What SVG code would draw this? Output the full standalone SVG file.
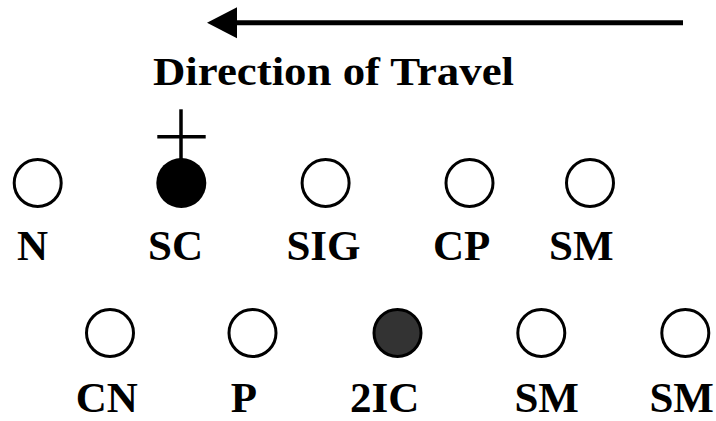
<svg xmlns="http://www.w3.org/2000/svg" width="716" height="421" viewBox="0 0 716 421">
<style>
.c{fill:#fff;stroke:#000;stroke-width:3}
.t{font-family:"Liberation Serif","Times New Roman",serif;font-weight:bold;font-size:43px;text-anchor:middle;fill:#000}
</style>
<rect width="716" height="421" fill="#fff"/>
<g id="connectors">
<line x1="683" y1="22.7" x2="234" y2="22.7" stroke="#000" stroke-width="5"/>
<polygon points="207,22.7 237,7.3 237,38.3" fill="#000"/>
</g>
<text x="153" y="85" font-family="Liberation Serif, Times New Roman, serif" font-weight="bold" font-size="41" textLength="361" lengthAdjust="spacingAndGlyphs">Direction of Travel</text>
<g id="N"><circle class="c" cx="37.7" cy="183" r="23.5"/><text class="t" x="32.5" y="260">N</text></g>
<g id="SC"><circle cx="181.3" cy="183" r="25" fill="#000"/><line x1="181" y1="109.3" x2="181" y2="160" stroke="#000" stroke-width="3.5"/><line x1="157.3" y1="136.7" x2="205.7" y2="136.7" stroke="#000" stroke-width="3.5"/><text class="t" x="175.5" y="260">SC</text></g>
<g id="SIG"><circle class="c" cx="325.6" cy="183" r="23.5"/><text class="t" x="323.5" y="260">SIG</text></g>
<g id="CP"><circle class="c" cx="469.5" cy="183" r="23.5"/><text class="t" x="461.7" y="260">CP</text></g>
<g id="SM1"><circle class="c" cx="590" cy="183" r="23.5"/><text class="t" x="581.3" y="260">SM</text></g>
<g id="CN"><circle class="c" cx="110" cy="333" r="23.5"/><text class="t" x="106.7" y="412">CN</text></g>
<g id="P"><circle class="c" cx="252.5" cy="333" r="23.5"/><text class="t" x="244" y="412">P</text></g>
<g id="2IC"><circle cx="397.5" cy="333" r="23.5" fill="#333" stroke="#000" stroke-width="3"/><text class="t" x="384.7" y="412">2IC</text></g>
<g id="SM2"><circle class="c" cx="541.3" cy="333" r="23.5"/><text class="t" x="546.7" y="412">SM</text></g>
<g id="SM3"><circle class="c" cx="685.3" cy="333" r="23.5"/><text class="t" x="681.7" y="412">SM</text></g>
</svg>
